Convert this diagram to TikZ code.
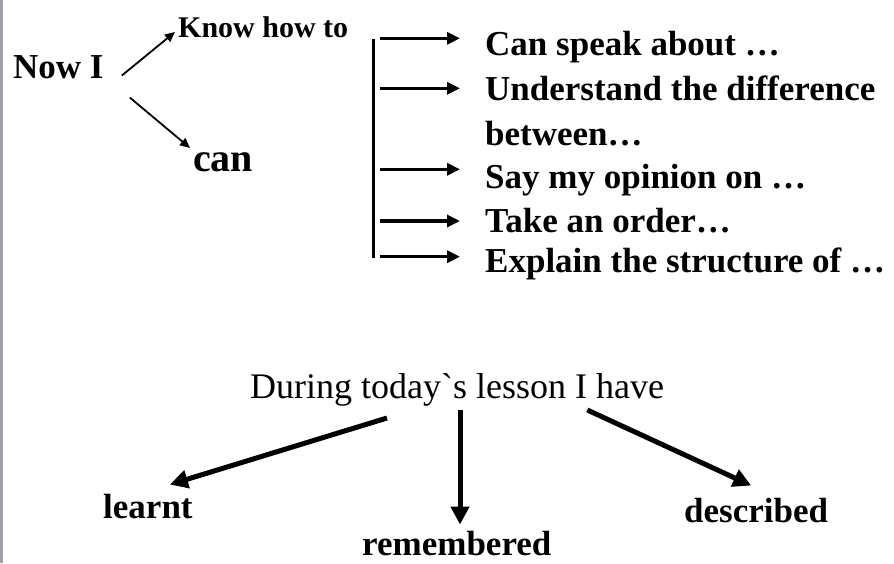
\documentclass[tikz,border=0pt]{standalone}
\usepackage{fontspec}
\setmainfont{Liberation Serif}[Ligatures=TeXOff]
\usetikzlibrary{arrows.meta,calc}
\definecolor{barGray}{RGB}{160,160,168}
\begin{document}
\begin{tikzpicture}[x=1pt,y=-1pt,
  lbl/.style={inner sep=0pt, anchor=base west, font=\bfseries\fontsize{35}{42}\selectfont},
  smallarrow/.style={line width=1.8pt, -{Triangle[length=10pt,width=9pt]}},
  listarrow/.style={line width=3.2pt, -{Triangle[length=13pt,width=12pt]}, shorten >=25pt},
  bigarrow/.style={line width=5pt, -{Triangle[length=18pt,width=18pt]}}
]
\useasboundingbox (0,0) rectangle (894,563);
\fill[barGray] (0,0) rectangle (3,563);

% top left
\node[lbl] (now) at (13,78) {Now I};
\node[lbl, font=\bfseries\fontsize{30}{36}\selectfont] (know) at (178,37) {Know how to};
\node[lbl, font=\bfseries\fontsize{40}{48}\selectfont] (can) at (193,171) {can};
\draw[smallarrow] ($(now.south east)+(18,-3)$) -- ($(know.base west)+(-3,-5)$);
\draw[smallarrow] ($(now.south east)+(26,19)$) -- ($(can.north west)+(-3,-4)$);

% list
\coordinate (bartop) at (373,39);
\coordinate (barbot) at (373,258);
\draw[line width=3pt] (bartop) -- (barbot);
\node[lbl] (i1) at (485,55) {Can speak about …};
\node[lbl] (i2) at (485,100) {Understand the difference};
\node[lbl] (i2b) at (485,145) {between…};
\node[lbl] (i3) at (485,188) {Say my opinion on …};
\node[lbl] (i4) at (485,232) {Take an order…};
\node[lbl] (i5) at (485,272) {Explain the structure of …};
\coordinate (a1) at (380,38.3);
\coordinate (a2) at (380,88.3);
\coordinate (a3) at (380,169.3);
\coordinate (a4) at (380,221);
\coordinate (a5) at (380,256.7);
\draw[listarrow] (a1) -- (a1 -| i1.west);
\draw[listarrow] (a2) -- (a2 -| i2.west);
\draw[listarrow] (a3) -- (a3 -| i3.west);
\draw[listarrow] (a4) -- (a4 -| i4.west);
\draw[listarrow] (a5) -- (a5 -| i5.west);

% bottom
\node[lbl, font=\fontsize{36}{43}\selectfont] (during) at (250,398) {During today`s lesson I have};
\node[lbl] (learnt) at (103,518) {learnt};
\node[lbl] (remembered) at (362,555) {remembered};
\node[lbl] (described) at (684,522) {described};
\coordinate (ms) at ($(during.base west)+(210,12)$);
\draw[bigarrow] ($(during.base west)+(137,20)$) -- ($(learnt.north)+(22,-9)$);
\draw[bigarrow, shorten >=6pt] (ms) -- (ms |- remembered.north);
\draw[bigarrow] ($(during.base east)+(-77,12)$) -- ($(described.north)+(-5,-12)$);
\end{tikzpicture}
\end{document}
